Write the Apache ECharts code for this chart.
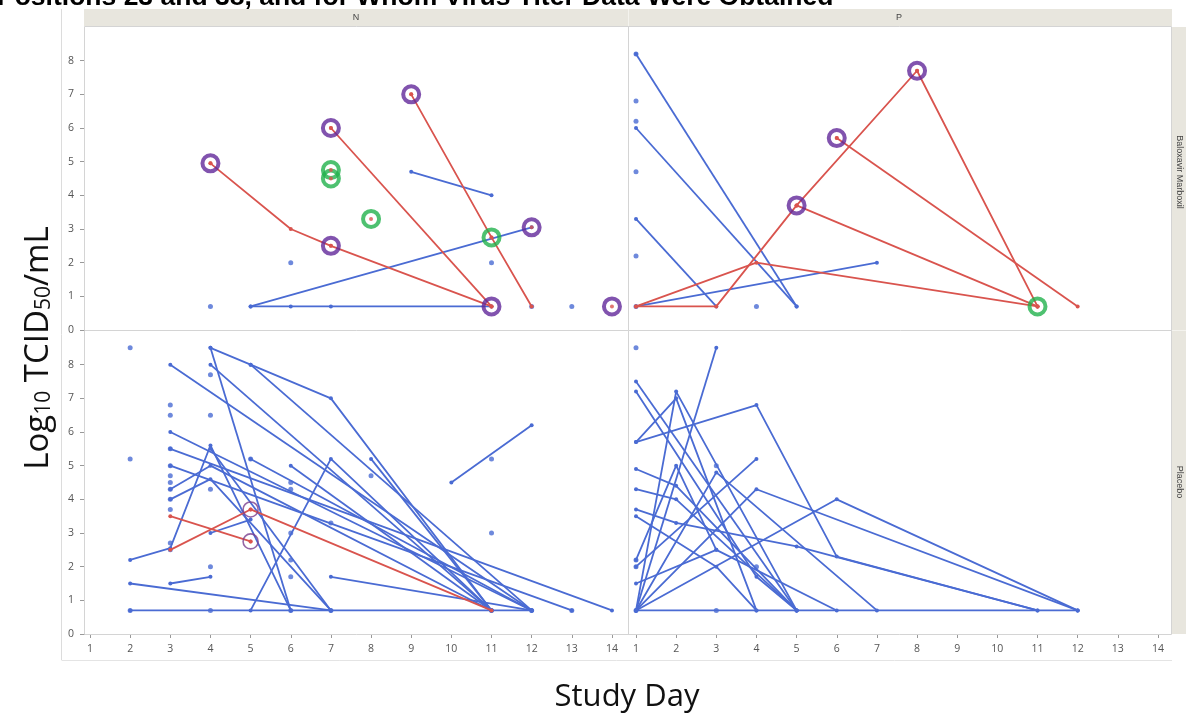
<!DOCTYPE html>
<html><head><meta charset="utf-8">
<script src="https://cdn.jsdelivr.net/npm/echarts@6/dist/echarts.min.js"></script>
<style>html,body{margin:0;padding:0;background:#fff}#c{width:1186px;height:715px}</style>
</head><body><div id="c"></div>
<script>
// ---------- tick labels / categories ----------
const DAYS = [1,2,3,4,5,6,7,8,9,10,11,12,13,14];
const TITERS = [0,1,2,3,4,5,6,7,8];
const COL_LABELS = ['N','P'];
const ROW_LABELS = ['Baloxavir Marboxil','Placebo'];

// ---------- Baloxavir Marboxil, N ----------
const balN_blueLines = [
  [[5,0.7],[12,3.05]],
  [[5,0.7],[6,0.7],[7,0.7],[11,0.7]],
  [[9,4.7],[11,4.0]]
];
const balN_redLines = [
  [[4,4.95],[6,3.0],[7,2.5],[11,0.7]],
  [[7,6.0],[11,0.7]],
  [[9,7.0],[11,2.75],[12,0.7]]
];
const balN_dots = [[4,0.7],[6,2.0],[11,2.0],[12,0.7],[13,0.7]];
const balN_purple = [[4,4.95],[7,6.0],[9,7.0],[7,2.5],[12,3.05],[11,0.7],[14,0.7]];
const balN_green = [[7,4.75],[7,4.5],[8,3.3],[11,2.75]];

// ---------- Baloxavir Marboxil, P ----------
const balP_blueLines = [
  [[1,8.2],[5,0.7]],
  [[1,6.0],[5,0.7]],
  [[1,3.3],[3,0.7]],
  [[1,0.7],[7,2.0]]
];
const balP_redLines = [
  [[1,0.7],[3,0.7],[5,3.7],[8,7.7],[11,0.7]],
  [[1,0.7],[4,2.0],[11,0.7]],
  [[5,3.7],[11,0.7]],
  [[6,5.7],[12,0.7]]
];
const balP_dots = [[1,8.2],[1,6.8],[1,6.2],[1,4.7],[1,2.2],[1,0.7],[4,0.7]];
const balP_purple = [[5,3.7],[6,5.7],[8,7.7]];
const balP_green = [[11,0.7]];

// ---------- Placebo, N ----------
const plaN_blueLines = [
  [[2,0.7],[12,0.7]],
  [[2,2.2],[3,2.55],[4,5.6],[6,0.7]],
  [[2,1.5],[7,0.7]],
  [[3,1.5],[4,1.7]],
  [[3,8.0],[12,0.7]],
  [[4,8.5],[5,8.0],[7,7.0],[11,0.7]],
  [[4,8.5],[6,0.7]],
  [[4,8.0],[11,0.7]],
  [[5,8.0],[12,0.7]],
  [[3,6.0],[12,0.7]],
  [[3,5.5],[14,0.7]],
  [[3,5.0],[13,0.7]],
  [[3,4.3],[4,5.0],[11,0.7]],
  [[3,4.0],[4,4.6],[7,0.7]],
  [[4,5.5],[7,0.7]],
  [[5,0.7],[7,5.2],[11,0.7]],
  [[5,5.2],[12,0.7]],
  [[6,5.0],[11,0.7]],
  [[7,1.7],[12,0.7]],
  [[8,5.2],[11,0.7]],
  [[10,4.5],[12,6.2]],
  [[4,3.0],[5,3.4]]
];
const plaN_redLines = [
  [[3,3.5],[5,2.75]],
  [[3,2.5],[5,3.7],[11,0.7]]
];
const plaN_dots = [[2,8.5],[2,5.2],[2,0.7],[3,6.8],[3,6.5],[3,5.5],[3,5.0],[3,4.7],[3,4.5],[3,4.3],[3,4.0],[3,3.7],[3,2.7],[3,2.5],
  [4,7.7],[4,6.5],[4,4.3],[4,2.0],[4,0.7],[5,5.2],[6,4.5],[6,4.3],[6,3.0],[6,2.2],[6,1.7],[6,0.7],[7,3.3],[7,0.7],[8,4.7],
  [11,5.2],[11,3.0],[11,0.7],[12,0.7],[13,0.7]];
const plaN_purple = [[5,3.7],[5,2.75]];

// ---------- Placebo, P ----------
const plaP_blueLines = [
  [[1,0.7],[12,0.7]],
  [[1,0.7],[3,8.5]],
  [[1,7.5],[5,0.7]],
  [[1,7.2],[4,1.7],[5,0.7]],
  [[1,0.7],[2,7.2],[5,0.7]],
  [[1,5.7],[2,7.0],[4,0.7]],
  [[1,5.7],[4,6.8],[6,2.3],[11,0.7]],
  [[1,0.7],[6,4.0],[12,0.7]],
  [[1,0.7],[4,4.3],[12,0.7]],
  [[1,2.0],[4,5.2]],
  [[1,4.9],[2,4.4],[5,0.7]],
  [[1,3.5],[3,2.0],[4,0.7]],
  [[1,3.7],[2,3.3],[5,2.6],[11,0.7]],
  [[1,2.2],[2,5.0],[3,2.5],[6,0.7]],
  [[1,0.7],[3,4.8],[7,0.7]],
  [[1,4.3],[2,4.0],[5,0.7]],
  [[1,1.5],[3,2.5]]
];
const plaP_dots = [[1,8.5],[1,2.2],[1,2.0],[1,0.7],[3,5.0],[3,0.7],[4,2.0]];

// ---------- styling (not data) ----------
const BLUE = '#4a6bd3', RED = '#d9544e', PURPLE = '#62289a', GREEN = '#22b14c';
const PANEL_LEFT = [85, 629], PANEL_W = [543, 542], PANEL_TOP = [27, 331], PANEL_H = 303;
const PX_PER_DAY = 40.15;
const DAY1_X = [90, 636];

const grids = [], xAxes = [], yAxes = [], series = [];
for (let r = 0; r < 2; r++) for (let c = 0; c < 2; c++) {
  const g = r * 2 + c;
  grids.push({left: PANEL_LEFT[c], top: PANEL_TOP[r], width: PANEL_W[c], height: PANEL_H, containLabel: false});
  const xmin = 1 - (DAY1_X[c] - PANEL_LEFT[c]) / PX_PER_DAY;
  xAxes.push({type: 'value', gridIndex: g, min: xmin, max: xmin + PANEL_W[c] / PX_PER_DAY,
    axisLine: {show: false}, splitLine: {show: false},
    axisTick: {show: r === 1, length: 4, customValues: DAYS, lineStyle: {color: '#999'}},
    axisLabel: {show: r === 1, customValues: DAYS, color: '#555', fontSize: 10.5, margin: 10, fontFamily: 'Open Sans'}});
  yAxes.push({type: 'value', gridIndex: g, min: 0, max: 9,
    axisLine: {show: false}, splitLine: {show: false},
    axisTick: {show: c === 0, length: 5, customValues: TITERS, lineStyle: {color: '#999'}},
    axisLabel: {show: c === 0, customValues: TITERS, color: '#555', fontSize: 10.5, margin: 11, fontFamily: 'Open Sans'}});
}

function addLines(g, list, color) {
  list.forEach(pts => series.push({type: 'line', xAxisIndex: g, yAxisIndex: g, data: pts,
    symbol: 'circle', symbolSize: 4, showSymbol: true, silent: true, animation: false,
    lineStyle: {color, width: 1.8}, itemStyle: {color}, z: color === RED ? 4 : 3}));
}
function addDots(g, pts) {
  series.push({type: 'scatter', xAxisIndex: g, yAxisIndex: g, data: pts, symbolSize: 5,
    silent: true, animation: false, itemStyle: {color: BLUE}, z: 3});
}
function addRings(g, pts, color, size, bw) {
  series.push({type: 'scatter', xAxisIndex: g, yAxisIndex: g, data: pts, symbolSize: size,
    silent: true, animation: false, itemStyle: {color: 'rgba(255,255,255,0)', borderColor: color, borderWidth: bw}, z: 6});
  series.push({type: 'scatter', xAxisIndex: g, yAxisIndex: g, data: pts, symbolSize: 4,
    silent: true, animation: false, itemStyle: {color: RED}, z: 7});
}

addLines(0, balN_blueLines, BLUE); addDots(0, balN_dots); addLines(0, balN_redLines, RED);
addRings(0, balN_purple, PURPLE, 16, 4); addRings(0, balN_green, GREEN, 16, 4);
addLines(1, balP_blueLines, BLUE); addDots(1, balP_dots); addLines(1, balP_redLines, RED);
addRings(1, balP_purple, PURPLE, 16, 4); addRings(1, balP_green, GREEN, 16, 4);
addLines(2, plaN_blueLines, BLUE); addDots(2, plaN_dots); addLines(2, plaN_redLines, RED);
addRings(2, plaN_purple, '#7b3f8f', 15, 1.6);
addLines(3, plaP_blueLines, BLUE); addDots(3, plaP_dots);

// ---------- frames, strips, titles ----------
const STRIP = '#e8e6de', FRAME = '#d4d4d4';
const graphics = [
  {type: 'rect', shape: {x: 84, y: 9, width: 1088, height: 17}, style: {fill: STRIP}, z: 0},
  {type: 'rect', shape: {x: 1172, y: 27, width: 14, height: 607}, style: {fill: STRIP}, z: 0},
  {type: 'line', shape: {x1: 628.5, y1: 9, x2: 628.5, y2: 26}, style: {stroke: '#f4f3ee', lineWidth: 1}},
  {type: 'line', shape: {x1: 1172, y1: 330.5, x2: 1186, y2: 330.5}, style: {stroke: '#f4f3ee', lineWidth: 1}},
  {type: 'rect', shape: {x: 84.5, y: 26.5, width: 1087, height: 608}, style: {fill: 'none', stroke: FRAME, lineWidth: 1}, z: 1},
  {type: 'line', shape: {x1: 628.5, y1: 27, x2: 628.5, y2: 634}, style: {stroke: FRAME, lineWidth: 1}, z: 1},
  {type: 'line', shape: {x1: 85, y1: 330.5, x2: 1172, y2: 330.5}, style: {stroke: FRAME, lineWidth: 1}, z: 1},
  {type: 'line', shape: {x1: 61.5, y1: 9, x2: 61.5, y2: 660}, style: {stroke: '#dcdcdc', lineWidth: 1}},
  {type: 'line', shape: {x1: 61.5, y1: 660.5, x2: 1172, y2: 660.5}, style: {stroke: '#e4e4e4', lineWidth: 1}},
  {type: 'text', style: {text: COL_LABELS[0], x: 356, y: 18, textAlign: 'center', textVerticalAlign: 'middle', font: '9px "Liberation Sans"', fill: '#444'}},
  {type: 'text', style: {text: COL_LABELS[1], x: 899, y: 18, textAlign: 'center', textVerticalAlign: 'middle', font: '9px "Liberation Sans"', fill: '#444'}},
  {type: 'text', x: 1179, y: 172, rotation: -Math.PI / 2, style: {text: ROW_LABELS[0], x: 0, y: 0, textAlign: 'center', textVerticalAlign: 'middle', font: '9px "Liberation Sans"', fill: '#444'}},
  {type: 'text', x: 1179, y: 482, rotation: -Math.PI / 2, style: {text: ROW_LABELS[1], x: 0, y: 0, textAlign: 'center', textVerticalAlign: 'middle', font: '9px "Liberation Sans"', fill: '#444'}},
  {type: 'text', style: {text: 'Positions 23 and 38, and for Whom Virus Titer Data Were Obtained', x: -3, y: 11, textAlign: 'left', textVerticalAlign: 'bottom', font: 'bold 26.5px "Liberation Sans"', fill: '#000'}},
  {type: 'text', x: 627, y: 697, style: {text: 'Study Day', x: 0, y: 0, textAlign: 'center', textVerticalAlign: 'middle', font: '31px "Open Sans"', fill: '#111'}},
  {type: 'text', x: 33, y: 348, rotation: Math.PI / 2, style: {
    text: '{a|Log}{b|10}{a| TCID}{b|50}{a|/mL}', x: 0, y: 0, textAlign: 'center', textVerticalAlign: 'middle',
    rich: {a: {fontSize: 33, fontFamily: 'Open Sans', fill: '#111', lineHeight: 44, verticalAlign: 'bottom'},
           b: {fontSize: 21, fontFamily: 'Open Sans', fill: '#111', lineHeight: 44, verticalAlign: 'bottom'}}}}
];

const chart = echarts.init(document.getElementById('c'), null, {renderer: 'canvas'});
chart.setOption({animation: false, grid: grids, xAxis: xAxes, yAxis: yAxes, series, graphic: graphics});
</script>
</body></html>
